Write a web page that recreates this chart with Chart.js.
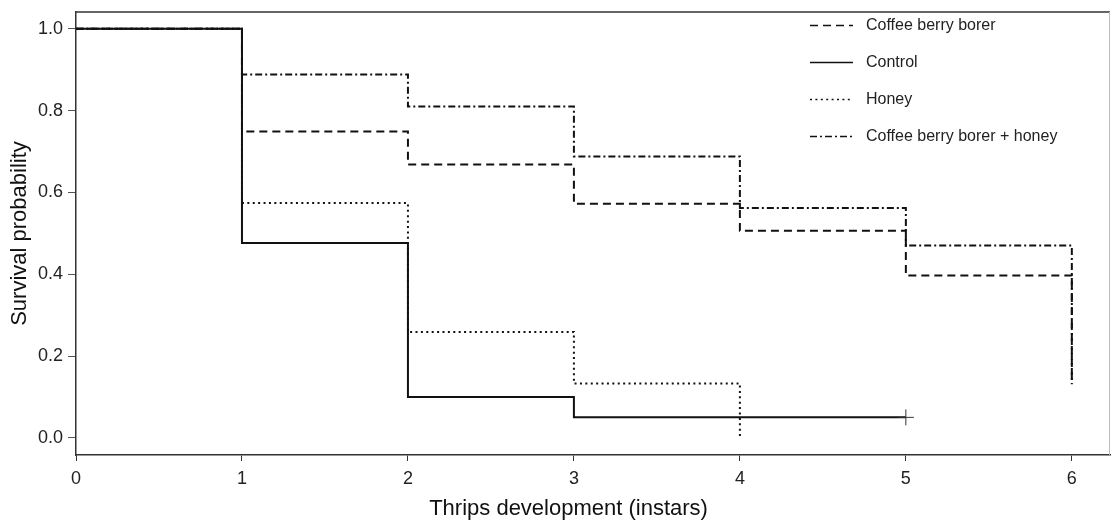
<!DOCTYPE html>
<html>
<head>
<meta charset="utf-8">
<script src="https://cdn.jsdelivr.net/npm/chart.js@4.4.1/dist/chart.umd.min.js"></script>
<style>
  html, body { margin: 0; padding: 0; background: #ffffff; }
  #wrap { width: 1112px; height: 522px; }
</style>
</head>
<body>
<div id="wrap"><canvas id="c" width="1112" height="522"></canvas></div>
<script>
// ---- Data ----
const instars = [0, 1, 2, 3, 4, 5, 6];
const seriesNames = ['Coffee berry borer', 'Control', 'Honey', 'Coffee berry borer + honey'];
const coffeeBerryBorer = [1.0, 0.749, 0.668, 0.572, 0.506, 0.397, 0.131];
const control = [1.0, 0.476, 0.100, 0.050, 0.050, 0.050];
const honey = [1.0, 0.574, 0.259, 0.133, 0.0];
const coffeeBerryBorerHoney = [1.0, 0.888, 0.810, 0.688, 0.562, 0.470, 0.131];
const censoredAt = [null, 5, null, null]; // "+" censor mark per series
const xTickValues = [0, 1, 2, 3, 4, 5, 6];
const yTickValues = [0.0, 0.2, 0.4, 0.6, 0.8, 1.0];

const FONT = "'Liberation Sans', Arial, sans-serif";
const INK = '#111111';

function toPoints(values) {
  return values.map((v, i) => ({ x: instars[i], y: v }));
}
function radii(values, censor) {
  return values.map((v, i) => (censor !== null && instars[i] === censor) ? 8 : 0);
}

const allValues = [coffeeBerryBorer, control, honey, coffeeBerryBorerHoney];
const dashes = [[8, 5], [], [2, 3.4], [7, 3, 2, 3]];
const drawOrder = [2, 0, 1, 3];

const datasets = allValues.map((vals, k) => ({
  label: seriesNames[k],
  data: toPoints(vals),
  stepped: 'before',
  borderColor: INK,
  backgroundColor: INK,
  borderWidth: 2,
  borderDash: dashes[k],
  borderCapStyle: 'butt',
  fill: false,
  pointStyle: 'cross',
  pointRadius: radii(vals, censoredAt[k]),
  pointBorderWidth: 1,
  pointBorderColor: '#333333',
  pointHoverRadius: 0,
  order: drawOrder[k]
}));

const framePlugin = {
  id: 'frame',
  afterDatasetsDraw(chart) {
    const a = chart.chartArea;
    const ctx = chart.ctx;
    ctx.save();
    ctx.strokeStyle = '#333333';
    ctx.lineWidth = 1.5;
    ctx.beginPath();
    ctx.moveTo(a.left, a.top);
    ctx.lineTo(a.right, a.top);
    ctx.stroke();
    ctx.strokeStyle = '#bbbbbb';
    ctx.lineWidth = 1;
    ctx.beginPath();
    ctx.moveTo(a.right - 0.5, a.top);
    ctx.lineTo(a.right - 0.5, a.bottom);
    ctx.stroke();
    ctx.restore();
  }
};

const legendPlugin = {
  id: 'lineLegend',
  afterDraw(chart) {
    const a = chart.chartArea;
    const ctx = chart.ctx;
    ctx.save();
    chart.data.datasets.forEach((ds, i) => {
      const y = a.top + 13 + i * 37;
      const x0 = a.right - 300;
      ctx.strokeStyle = ds.borderColor;
      ctx.lineWidth = 1.5;
      ctx.setLineDash(ds.borderDash || []);
      ctx.beginPath();
      ctx.moveTo(x0, y + 0.5);
      ctx.lineTo(x0 + 43, y + 0.5);
      ctx.stroke();
      ctx.setLineDash([]);
      ctx.fillStyle = '#222222';
      ctx.font = '16px ' + FONT;
      ctx.textBaseline = 'middle';
      ctx.textAlign = 'left';
      ctx.fillText(ds.label, x0 + 56, y + 1);
    });
    ctx.restore();
  }
};

new Chart(document.getElementById('c'), {
  type: 'line',
  data: { datasets },
  options: {
    responsive: false,
    animation: false,
    events: [],
    layout: { autoPadding: false, padding: { top: 12, right: 2, left: 0, bottom: 0 } },
    plugins: {
      legend: { display: false },
      tooltip: { enabled: false }
    },
    scales: {
      x: {
        type: 'linear',
        min: 0,
        max: 6.23,
        afterBuildTicks(scale) { scale.ticks = xTickValues.map(v => ({ value: v })); },
        afterFit(scale) { scale.height = 67; scale.paddingLeft = 0; scale.paddingRight = 0; },
        border: { display: true, color: '#333333', width: 1.5 },
        grid: { drawOnChartArea: false, drawTicks: true, tickLength: 6, color: '#333333', lineWidth: 1 },
        ticks: {
          color: '#222222',
          font: { family: FONT, size: 18 },
          padding: 7,
          maxRotation: 0,
          callback: (v) => String(v)
        },
        title: {
          display: true,
          text: 'Thrips development (instars)        ',
          color: '#111111',
          font: { family: FONT, size: 22, lineHeight: 1 },
          padding: { top: 0, bottom: 2 }
        }
      },
      y: {
        type: 'linear',
        min: -0.042,
        max: 1.041,
        afterBuildTicks(scale) { scale.ticks = yTickValues.map(v => ({ value: v })); },
        afterFit(scale) { scale.width = 76; scale.paddingTop = 0; scale.paddingBottom = 0; },
        border: { display: true, color: '#333333', width: 1.5 },
        grid: { drawOnChartArea: false, drawTicks: true, tickLength: 8, color: '#555555', lineWidth: 1 },
        ticks: {
          color: '#222222',
          font: { family: FONT, size: 18 },
          padding: 5,
          callback: (v) => Number(v).toFixed(1)
        },
        title: {
          display: true,
          text: 'Survival probability',
          color: '#111111',
          font: { family: FONT, size: 22, lineHeight: 1 },
          padding: { top: 9, bottom: 0 }
        }
      }
    }
  },
  plugins: [framePlugin, legendPlugin]
});
</script>
</body>
</html>
